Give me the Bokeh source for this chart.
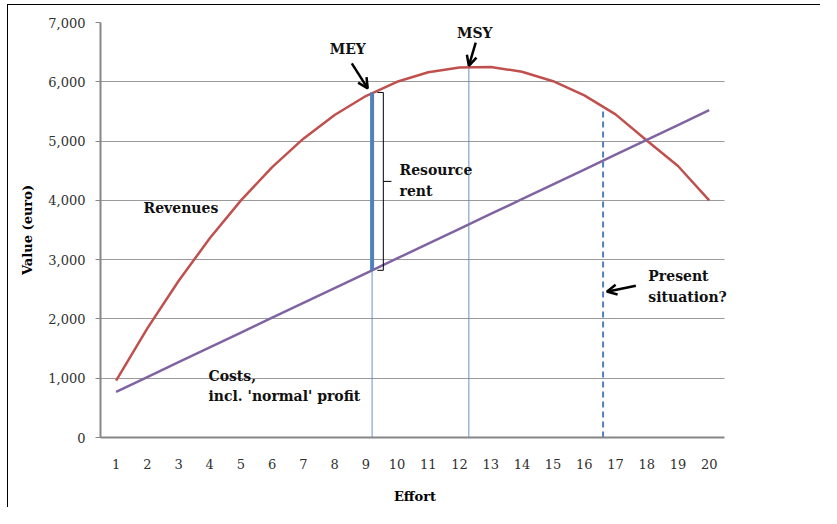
from bokeh.plotting import figure
from bokeh.models import FixedTicker, NumeralTickFormatter, Arrow, OpenHead, Range1d, Label
from bokeh.embed import file_html
from bokeh.resources import INLINE

# ---- data ----
effort = [1, 2, 3, 4, 5, 6, 7, 8, 9, 10, 11, 12, 13, 14, 15, 16, 17, 18, 19, 20]
revenues = [960, 1840, 2640, 3360, 4000, 4560, 5040, 5440, 5760, 6000,
            6160, 6240, 6250, 6170, 6010, 5770, 5450, 5010, 4580, 4000]
costs = [770, 1020, 1270, 1520, 1770, 2020, 2270, 2520, 2770, 3020,
         3270, 3520, 3770, 4020, 4270, 4520, 4770, 5020, 5270, 5520]
y_ticks = [0, 1000, 2000, 3000, 4000, 5000, 6000, 7000]

mey_effort = 9.2
mey_revenue = 5820
mey_cost = 2820
msy_effort = 12.3
msy_revenue = 6250
present_effort = 16.6
present_revenue = 5580

FONT = "DejaVu Serif"
RED = "#C0504D"
PURPLE = "#8064A2"
BLUE = "#4F81BD"

# frame is slightly wider than the axis so that the right-hand note is not clipped
p = figure(width=813, height=503, output_backend="svg", toolbar_location=None,
           x_range=Range1d(0.5, 20.65), y_range=Range1d(0, 7000),
           min_border_left=92, min_border_right=92, min_border_top=17, min_border_bottom=71)
p.styles = {"margin-left": "7px", "margin-top": "4px",
            "border-left": "1px solid #000000", "border-top": "1px solid #000000"}
p.outline_line_color = None
p.background_fill_color = "white"
p.border_fill_color = "white"

# axes
p.xaxis.ticker = FixedTicker(ticks=effort)
p.xaxis.bounds = (0.5, 20.5)
p.yaxis.ticker = FixedTicker(ticks=y_ticks)
p.yaxis.formatter = NumeralTickFormatter(format="0,0")
for ax in (p.xaxis[0], p.yaxis[0]):
    ax.axis_line_color = "#868686"
    ax.axis_line_width = 2
    ax.major_label_text_font = FONT
    ax.major_label_text_font_size = "13px"
    ax.major_label_text_color = "#303030"
    ax.axis_label_text_font = FONT
    ax.axis_label_text_font_size = "13px"
    ax.axis_label_text_font_style = "bold"
    ax.axis_label_text_color = "#000000"
    ax.minor_tick_line_color = None
p.xaxis.major_tick_line_color = None
p.xaxis.major_tick_out = 0
p.xaxis.major_tick_in = 0
p.xaxis.major_label_standoff = 21
p.xaxis.axis_label = "Effort"
p.xaxis.axis_label_standoff = 17
p.yaxis.major_tick_line_color = "#868686"
p.yaxis.major_tick_line_width = 1
p.yaxis.major_tick_out = 5
p.yaxis.major_tick_in = 0
p.yaxis.major_label_standoff = 10
p.yaxis.axis_label = "Value (euro)"
p.yaxis.axis_label_standoff = 10

p.xgrid.grid_line_color = None
p.ygrid.grid_line_color = "#9a9a9a"
p.ygrid.grid_line_width = 1
p.ygrid.cross_bounds = (0.5, 20.5)

# vertical reference lines
p.segment(x0=[mey_effort], y0=[0], x1=[mey_effort], y1=[mey_cost],
          line_color=BLUE, line_width=1, line_alpha=0.85)
p.segment(x0=[msy_effort], y0=[0], x1=[msy_effort], y1=[msy_revenue],
          line_color=BLUE, line_width=1, line_alpha=0.85)
p.segment(x0=[present_effort], y0=[0], x1=[present_effort], y1=[present_revenue],
          line_color=BLUE, line_width=2, line_dash="6 4")

# series
p.line(effort, revenues, line_color=RED, line_width=2.5)
p.line(effort, costs, line_color=PURPLE, line_width=2.5)

# resource rent bar at MEY
p.segment(x0=[mey_effort], y0=[mey_cost], x1=[mey_effort], y1=[mey_revenue],
          line_color=BLUE, line_width=4)

# bracket
bx0 = mey_effort + 0.17
bx1 = mey_effort + 0.36
bmid = (mey_cost + mey_revenue) / 2
p.multi_line(xs=[[bx0, bx1, bx1, bx0], [bx1, bx1 + 0.26]],
             ys=[[mey_revenue, mey_revenue, mey_cost, mey_cost], [bmid, bmid]],
             line_color="black", line_width=1)

# arrows
def arrow(x0, y0, x1, y1):
    p.add_layout(Arrow(end=OpenHead(size=10, line_width=2.5, line_color="black"),
                       x_start=x0, y_start=y0, x_end=x1, y_end=y1,
                       line_width=2.5, line_color="black"))

arrow(8.55, 6310, mey_effort - 0.14, mey_revenue + 70)
arrow(12.52, 6660, msy_effort, msy_revenue + 20)
arrow(17.65, 2560, present_effort + 0.12, 2460)

# annotation texts
def label(x, y, txt, align="left"):
    p.add_layout(Label(x=x, y=y, text=txt, text_font=FONT, text_font_size="14px",
                       text_font_style="bold", text_color="#111111", text_align=align,
                       text_baseline="middle"))

label(8.42, 6560, "MEY", "center")
label(12.49, 6815, "MSY", "center")
label(10.08, 4504, "Resource")
label(10.08, 4166, "rent")
label(1.88, 3863, "Revenues")
label(3.96, 1029, "Costs,")
label(3.96, 692, "incl. 'normal' profit")
label(18.05, 2716, "Present")
label(18.05, 2378, "situation?")

open("out.html", "w").write(file_html(p, INLINE))
